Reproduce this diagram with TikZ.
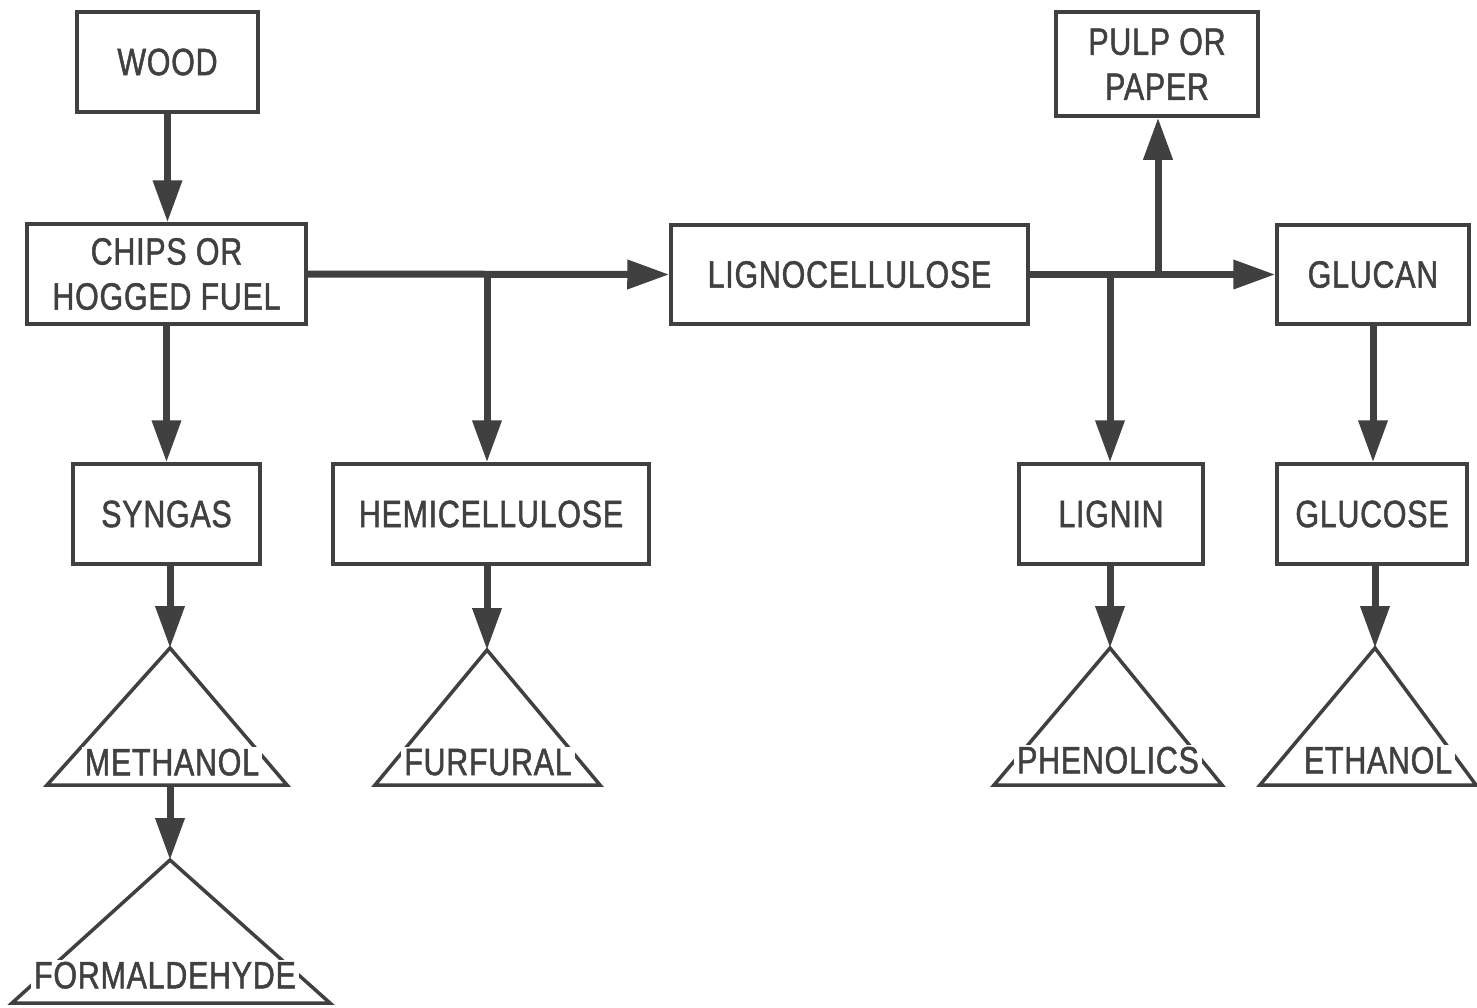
\documentclass[tikz,border=0pt]{standalone}
\usepackage{fontspec}
\setmainfont[FakeStretch=0.8,FakeBold=1.3,LetterSpace=2]{Liberation Sans}
\usetikzlibrary{arrows.meta}
\definecolor{ink}{HTML}{404040}
\begin{document}
\begin{tikzpicture}[x=1pt,y=-1pt,
  box/.style={draw=ink, line width=3.5pt, minimum width=#1, align=center,
    text=ink, font=\fontsize{38}{45}\selectfont, inner sep=0pt},
  flow/.style={draw=ink, line width=7pt, -{Triangle[length=42pt,width=28pt]}},
  cone/.style={draw=ink, line width=3.5pt, line join=miter},
  tag/.style={fill=white, text=ink, font=\fontsize{38}{45}\selectfont,
    inner xsep=3pt, inner ysep=2pt, text depth=0pt}]
\useasboundingbox[fill=white] (0,0) rectangle (1477,1007);

% boxes
\node[box=181pt, minimum height=100pt] (wood)    at (167.5,62)  {WOOD};
\node[box=279pt, minimum height=100pt] (chips)   at (166.5,274) {CHIPS OR\\HOGGED FUEL};
\node[box=357pt, minimum height=99pt]  (ligno)   at (849.5,274.5) {LIGNOCELLULOSE};
\node[box=202pt, minimum height=104pt] (pulp)    at (1157,64)   {PULP OR\\PAPER};
\node[box=192pt, minimum height=99pt]  (glucan)  at (1373,274.5) {GLUCAN};
\node[box=187pt, minimum height=100pt] (syngas)  at (166.5,514) {SYNGAS};
\node[box=316pt, minimum height=100pt] (hemi)    at (491,514)   {HEMICELLULOSE};
\node[box=184pt, minimum height=100pt] (lignin)  at (1111,514)  {LIGNIN};
\node[box=190pt, minimum height=100pt] (glucose) at (1372,514)  {GLUCOSE};

% product triangles
\coordinate (mTop) at (170,648);
\coordinate (fTop) at (487,650);
\coordinate (pTop) at (1110,648);
\coordinate (eTop) at (1375,648);
\coordinate (hTop) at (170,860);
\draw[cone] (mTop) -- (47,785) -- (287,785) -- cycle;
\draw[cone] (fTop) -- (375,785) -- (600,785) -- cycle;
\draw[cone] (pTop) -- (994,785) -- (1222,785) -- cycle;
\draw[cone] (eTop) -- (1260,785) -- (1476,785) -- cycle;
\draw[cone] (hTop) -- (12,1003) -- (330,1003) -- cycle;
\coordinate (mBase) at (170,785);

\node[tag] (methanol) at (172,762)  {METHANOL};
\node[tag] (furfural) at (488,762)  {FURFURAL};
\node[tag] (phenol)   at (1108,760) {PHENOLICS};
\node[tag] (ethanol)  at (1378,760) {ETHANOL};
\node[tag] (formal)   at (165,975)  {FORMALDEHYDE};

% junctions on the main lines
\coordinate (j1) at (487,274);
\coordinate (j2) at (1110,274.5);
\coordinate (j3) at (1158,274.5);

% connectors
\draw[flow] (wood.south) -- (wood.south |- chips.north);
\draw[flow] (chips.east) -- (ligno.west);
\draw[flow] (j1) -- (j1 |- hemi.north);
\draw[flow] (ligno.east) -- (glucan.west);
\draw[flow] (j2) -- (j2 |- lignin.north);
\draw[flow] (j3) -- (j3 |- pulp.south);
\draw[flow] (chips.south) -- (chips.south |- syngas.north);
\draw[flow] (glucan.south) -- (glucan.south |- glucose.north);
\draw[flow] (syngas.south -| mTop) -- (mTop);
\draw[flow] (hemi.south -| fTop) -- (fTop);
\draw[flow] (lignin.south -| pTop) -- (pTop);
\draw[flow] (glucose.south -| eTop) -- (eTop);
\draw[flow] (mBase) -- (hTop);
\end{tikzpicture}
\end{document}
